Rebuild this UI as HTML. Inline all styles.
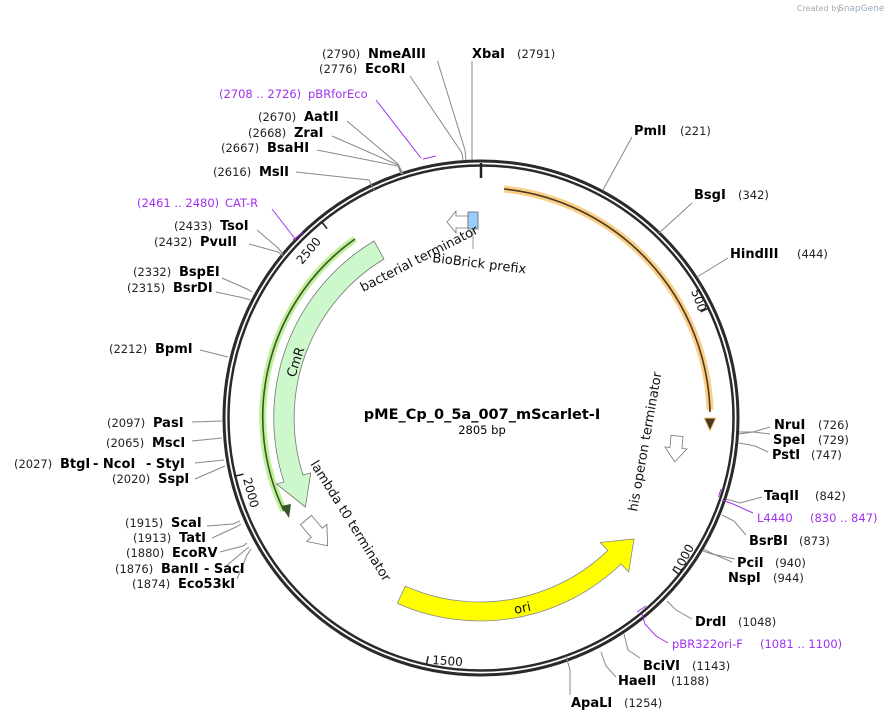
<!DOCTYPE html>
<html><head><meta charset="utf-8"><style>
html,body{margin:0;padding:0;background:#fff;}
svg{display:block;font-family:"DejaVu Sans","Liberation Sans",sans-serif;}
.n{font-size:13px;font-weight:bold;fill:#000;}
.p{font-size:11.5px;fill:#222;}
.pu{font-size:11.5px;fill:#a030f0;}
.l{stroke:#888;stroke-width:1;fill:none;}
.lp{stroke:#a030f0;stroke-width:1;fill:none;}
.f{font-size:13px;fill:#111;}
.t{font-size:12px;fill:#111;}
</style></head><body>
<svg width="895" height="721" viewBox="0 0 895 721" xmlns="http://www.w3.org/2000/svg">
<text x="797" y="11" font-size="8" fill="#aaa">Created by</text><text x="838" y="11" font-size="9" fill="#9ab">SnapGene</text>

<circle cx="481" cy="418" r="257" fill="none" stroke="#2a2a2a" stroke-width="3"/>
<circle cx="481" cy="418" r="252.5" fill="none" stroke="#2a2a2a" stroke-width="2.5"/>
<line x1="481" y1="163" x2="481" y2="178" stroke="#222" stroke-width="2.5"/>
<g stroke="#222" stroke-width="1.5">
<line x1="708.8" y1="307.9" x2="700.7" y2="311.8"/>
<line x1="679.6" y1="574.8" x2="672.5" y2="569.2"/>
<line x1="426.3" y1="665" x2="428.2" y2="656.2"/>
<line x1="234.8" y1="476.2" x2="243.5" y2="474.1"/>
<line x1="321.4" y1="221.6" x2="327.1" y2="228.6"/>
</g>
<text class="t" transform="translate(691,291) rotate(70)">500</text>
<text class="t" transform="translate(680,574) rotate(-62)">1000</text>
<text class="t" transform="translate(432,664) rotate(4)">1500</text>
<text class="t" transform="translate(243,479) rotate(75)">2000</text>
<text class="t" transform="translate(302,265) rotate(-50)">2500</text>

<path d="M504,189 A230,230 0 0 1 710,410" fill="none" stroke="#fbcf88" stroke-width="7"/>
<path d="M504,189 A230,230 0 0 1 710,412" fill="none" stroke="#4a3a22" stroke-width="1.6"/>
<path d="M704,418 L716,418 L710,431 Z" fill="#4a3a22" stroke="#fbcf88" stroke-width="1"/>

<path d="M355,239 A218,218 0 0 0 284,511" fill="none" stroke="#bff09a" stroke-width="7"/>
<path d="M355,239 A218,218 0 0 0 284,511" fill="none" stroke="#3b5528" stroke-width="1.6"/>
<path d="M281,506 L291,504 L289,518 Z" fill="#3b5528"/>

<path d="M374,241 A206,206 0 0 0 284,482 L276.5,484 L305.4,507 L310.7,473 L303,475 A186,186 0 0 1 384,259 Z" fill="#ccf8cc" stroke="#777" stroke-width="0.8"/>
<text class="f" transform="translate(295,378) rotate(-72)">CmR</text>

<path d="M397.4,603.4 A203,203 0 0 0 621,564 L628.7,571.9 L634,539 L600.2,542.4 L607.8,550.4 A184,184 0 0 1 405.2,586.1 Z" fill="#ffff00" stroke="#888" stroke-width="0.8"/>
<text class="f" transform="translate(515,614) rotate(-12)">ori</text>

<polygon points="447,222 456,211 456,216 468,216 468,228 456,228 456,233" fill="#fff" stroke="#777" stroke-width="0.8"/>
<rect x="468" y="212" width="10" height="17" fill="#99ccff" stroke="#666" stroke-width="0.8"/>
<line x1="473" y1="229" x2="473" y2="249" stroke="#999"/>
<polygon transform="translate(306,520) rotate(50) scale(1.2)" points="0,-6 14,-6 14,-11 28,0 14,11 14,6 0,6" fill="#fff" stroke="#777" stroke-width="0.7"/>
<polygon transform="translate(677,436) rotate(95)" points="0,-6 12,-6 12,-11 26,0 12,11 12,6 0,6" fill="#fff" stroke="#777" stroke-width="0.8"/>
<text class="f" transform="translate(363,292) rotate(-27)">bacterial terminator</text>
<text class="f" transform="translate(432,262) rotate(7)">BioBrick prefix</text>
<text class="f" transform="translate(310,464) rotate(58)">lambda t0 terminator</text>
<text class="f" transform="translate(637,512) rotate(-80)">his operon terminator</text>

<text x="482" y="419" text-anchor="middle" font-size="14.5" font-weight="bold">pME_Cp_0_5a_007_mScarlet-I</text>
<text x="482" y="434" text-anchor="middle" font-size="11.5">2805 bp</text>

<polyline class="l" points="437.5,61 465,150 466,160"/>
<polyline class="l" points="410,76 462,153 463,160"/>
<polyline class="l" points="472,61 472,160"/>
<polyline class="lp" points="376,100 421,158"/>
<line class="lp" x1="423" y1="159" x2="436" y2="156" stroke-width="2"/>
<polyline class="l" points="347,121 398,164 403,174"/>
<polyline class="l" points="332,136 398,165 402,174"/>
<polyline class="l" points="317,150 398,166 401,174"/>
<polyline class="l" points="296,172 369,180 374,190"/>
<polyline class="lp" points="272,209 296,240"/>
<line class="lp" x1="293" y1="240" x2="303" y2="232" stroke-width="2"/>
<polyline class="l" points="257,230 278,248 283,254"/>
<polyline class="l" points="249,244 278,252 283,256"/>
<polyline class="l" points="222,278 247,289 252,292"/>
<polyline class="l" points="216,292 244,298 250,300"/>
<polyline class="l" points="200,350 228,357"/>
<polyline class="l" points="192,422 222,421"/>
<polyline class="l" points="192,441 222,438"/>
<polyline class="l" points="195,463 224,460"/>
<polyline class="l" points="195,479 225,466"/>
<polyline class="l" points="207,526 233,524 240,521"/>
<polyline class="l" points="212,538 236,527 241,524"/>
<polyline class="l" points="220,552 243,546 247,543"/>
<polyline class="l" points="225,567 244,551 249,547"/>
<polyline class="l" points="237,579 247,555 251,549"/>

<polyline class="l" points="632,137 603,190"/>
<polyline class="l" points="692,203 659,233"/>
<polyline class="l" points="728,258 697,277"/>
<polyline class="l" points="770,427 753,432 739,432"/>
<polyline class="l" points="770,434 753,432 739,434"/>
<polyline class="l" points="768,452 755,446 739,443"/>
<polyline class="l" points="762,497 740,503 726,499"/>
<polyline class="lp" points="753,513 733,504 722,500"/>
<line class="lp" x1="718.5" y1="497" x2="721" y2="489" stroke-width="2"/>
<polyline class="l" points="746,535 734,521 722,515"/>
<polyline class="l" points="735,559 712,554 703,551"/>
<polyline class="l" points="732,562 711,553 704,549"/>
<polyline class="l" points="692,619 676,610 667,601"/>
<polyline class="lp" points="668,643 656,636 645,624 642,614"/>
<line class="lp" x1="637" y1="612" x2="646" y2="606" stroke-width="2"/>
<polyline class="l" points="640,658 628,650 624,634"/>
<polyline class="l" points="616,677 606,666 601,652"/>
<polyline class="l" points="570,695 570,670 566,656"/>

<text class="p" x="322" y="58">(2790)</text><text class="n" x="368" y="58">NmeAIII</text>
<text class="n" x="472" y="58">XbaI</text><text class="p" x="517" y="58">(2791)</text>
<text class="p" x="319" y="73">(2776)</text><text class="n" x="365" y="73">EcoRI</text>
<text class="pu" x="219" y="98">(2708 .. 2726)</text><text class="pu" x="308" y="98">pBRforEco</text>
<text class="p" x="258" y="121">(2670)</text><text class="n" x="304" y="121">AatII</text>
<text class="p" x="248" y="137">(2668)</text><text class="n" x="294" y="137">ZraI</text>
<text class="p" x="221" y="152">(2667)</text><text class="n" x="267" y="152">BsaHI</text>
<text class="p" x="213" y="176">(2616)</text><text class="n" x="259" y="176">MslI</text>
<text class="pu" x="137" y="207">(2461 .. 2480)</text><text class="pu" x="225" y="207">CAT-R</text>
<text class="p" x="174" y="230">(2433)</text><text class="n" x="220" y="230">TsoI</text>
<text class="p" x="154" y="246">(2432)</text><text class="n" x="200" y="246">PvuII</text>
<text class="p" x="133" y="276">(2332)</text><text class="n" x="179" y="276">BspEI</text>
<text class="p" x="127" y="292">(2315)</text><text class="n" x="173" y="292">BsrDI</text>
<text class="p" x="109" y="353">(2212)</text><text class="n" x="155" y="353">BpmI</text>
<text class="p" x="107" y="427">(2097)</text><text class="n" x="153" y="427">PasI</text>
<text class="p" x="106" y="447">(2065)</text><text class="n" x="152" y="447">MscI</text>
<text class="p" x="14" y="468">(2027)</text><text class="n" x="60" y="468">BtgI</text><text class="n" x="93" y="468">- NcoI</text><text class="n" x="146" y="468">- StyI</text>
<text class="p" x="112" y="483">(2020)</text><text class="n" x="158" y="483">SspI</text>
<text class="p" x="125" y="527">(1915)</text><text class="n" x="171" y="527">ScaI</text>
<text class="p" x="133" y="542">(1913)</text><text class="n" x="179" y="542">TatI</text>
<text class="p" x="126" y="557">(1880)</text><text class="n" x="172" y="557">EcoRV</text>
<text class="p" x="115" y="573">(1876)</text><text class="n" x="161" y="573">BanII</text><text class="n" x="204" y="573">- SacI</text>
<text class="p" x="132" y="588">(1874)</text><text class="n" x="178" y="588">Eco53kI</text>

<text class="n" x="634" y="135">PmlI</text><text class="p" x="680" y="135">(221)</text>
<text class="n" x="694" y="199">BsgI</text><text class="p" x="738" y="199">(342)</text>
<text class="n" x="730" y="258">HindIII</text><text class="p" x="797" y="258">(444)</text>
<text class="n" x="774" y="429">NruI</text><text class="p" x="818" y="429">(726)</text>
<text class="n" x="773" y="444">SpeI</text><text class="p" x="818" y="444">(729)</text>
<text class="n" x="772" y="459">PstI</text><text class="p" x="811" y="459">(747)</text>
<text class="n" x="764" y="500">TaqII</text><text class="p" x="815" y="500">(842)</text>
<text class="pu" x="757" y="522">L4440</text><text class="pu" x="810" y="522">(830 .. 847)</text>
<text class="n" x="749" y="545">BsrBI</text><text class="p" x="799" y="545">(873)</text>
<text class="n" x="737" y="567">PciI</text><text class="p" x="775" y="567">(940)</text>
<text class="n" x="728" y="582">NspI</text><text class="p" x="773" y="582">(944)</text>
<text class="n" x="695" y="626">DrdI</text><text class="p" x="738" y="626">(1048)</text>
<text class="pu" x="672" y="648">pBR322ori-F</text><text class="pu" x="760" y="648">(1081 .. 1100)</text>
<text class="n" x="643" y="670">BciVI</text><text class="p" x="692" y="670">(1143)</text>
<text class="n" x="618" y="685">HaeII</text><text class="p" x="671" y="685">(1188)</text>
<text class="n" x="571" y="707">ApaLI</text><text class="p" x="624" y="707">(1254)</text>
</svg>
</body></html>
